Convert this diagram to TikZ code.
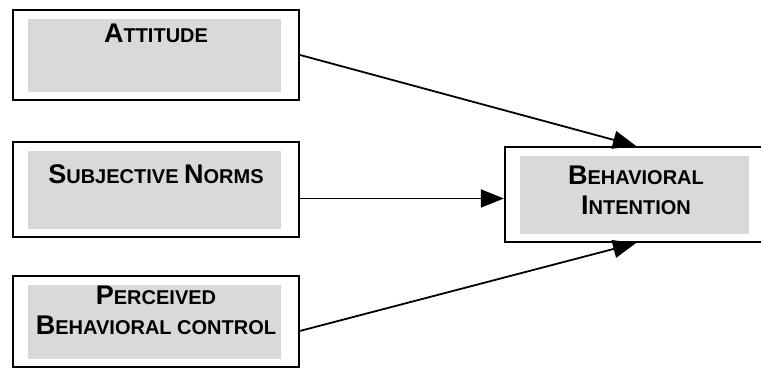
\documentclass[tikz,border=0pt]{standalone}
\usepackage{fontspec}
\setmainfont{Liberation Sans}
\usepackage{tikz}
\usetikzlibrary{arrows.meta, positioning}

% first letter large, the rest as small capitals
\newcommand{\capword}[2]{{\fontsize{27}{30}\selectfont #1}{\fontsize{20}{30}\selectfont #2}}

\begin{document}
\begin{tikzpicture}[
    x=1pt, y=-1pt,
    box/.style={rectangle, draw, line width=2.2pt, fill=white, inner sep=0pt,
        minimum width=286pt, minimum height=91pt,
        path picture={\fill[gray!30]
            ([shift={(15pt,-9pt)}]path picture bounding box.north west) rectangle
            ([shift={(-18pt,8pt)}]path picture bounding box.south east);}},
    lbl/.style={inner sep=0pt, align=center, font=\bfseries\fontsize{20}{30}\selectfont},
    arrow/.style={line width=1.8pt, -{Triangle[length=23pt, width=18pt]}}
]
\useasboundingbox (0,0) rectangle (761,371);
\clip (0,0) rectangle (761,371);

% Antecedents
\node[box, minimum height=90pt] (attitude) at (156,55) {};
\node[box, minimum height=95pt, below=40pt of attitude] (norms) {};
\node[box, below=37pt of norms] (control) {};

% Outcome
\node[box, minimum width=262pt, minimum height=95pt] (intention) at (636,194.5) {};

% Labels
\node[lbl, below=15pt of attitude.north] {\capword{A}{TTITUDE}};
\node[lbl, below=23pt of norms.north] {\capword{S}{UBJECTIVE} \capword{N}{ORMS}};
\node[lbl, below=10pt of control.north] {\capword{P}{ERCEIVED}\\\capword{B}{EHAVIORAL} \capword{}{CONTROL}};
\node[lbl, below=20pt of intention.north] {\capword{B}{EHAVIORAL}\\\capword{I}{NTENTION}};

% Arrows
\draw[arrow] (attitude.east) -- (intention.north);
\draw[arrow] ([yshift=-4pt]intention.west -| norms.east) -- ([yshift=-4pt]intention.west);
\draw[arrow] ([yshift=-9pt]control.east) -- (intention.south);

\end{tikzpicture}
\end{document}
